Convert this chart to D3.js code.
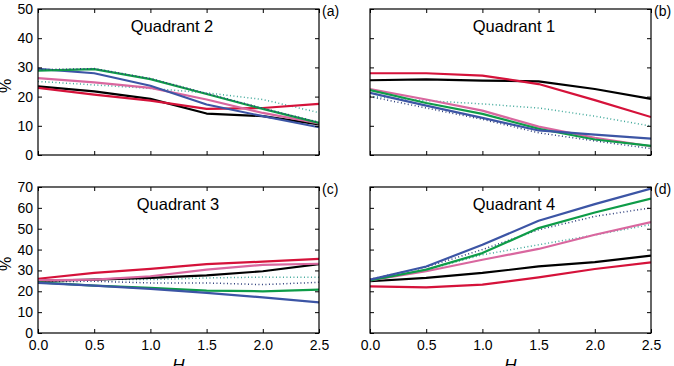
<!DOCTYPE html>
<html>
<head>
<meta charset="utf-8">
<script src="https://cdn.jsdelivr.net/npm/d3@7"></script>
<style>
  body { margin: 0; background: #fff; }
  svg { display: block; }
  text { font-family: "Liberation Sans", Arial, sans-serif; fill: #000; }
</style>
</head>
<body>
<div id="chart"></div>
<script>
// chart size
const width = 674, height = 366;

// H values along the x axis
const hValues = [0, 0.5, 1.0, 1.5, 2.0, 2.5];
const xTicks = [0, 0.5, 1.0, 1.5, 2.0, 2.5];

// series values per quadrant
const q2_black = [23.5, 21.8, 19.2, 14.2, 13.3, 10.5];
const q2_red   = [23.0, 20.7, 18.6, 15.8, 16.1, 17.5];
const q2_pink  = [26.3, 24.9, 23.0, 19.0, 14.4, 10.8];
const q2_blue  = [29.5, 28.0, 23.7, 17.3, 13.3, 9.5];
const q2_green = [28.9, 29.4, 26.0, 20.9, 15.8, 11.0];
const q2_dotNavy = [29.2, 29.6, 26.2, 21.1, 16.0, 11.2];
const q2_dotTeal = [25.2, 24.0, 22.8, 21.3, 19.0, 14.5];

const q1_black = [25.6, 25.9, 25.5, 25.2, 22.6, 19.2];
const q1_red   = [28.0, 28.0, 27.2, 24.3, 18.8, 13.0];
const q1_pink  = [22.6, 19.0, 15.2, 9.7, 5.9, 3.0];
const q1_blue  = [21.3, 16.9, 12.7, 8.4, 7.0, 5.6];
const q1_green = [22.2, 17.8, 14.1, 9.0, 5.3, 3.1];
const q1_dotNavy = [20.0, 16.1, 12.2, 7.6, 4.8, 2.2];
const q1_dotTeal = [20.1, 18.6, 17.5, 16.1, 13.3, 9.9];

const q3_black = [25.0, 25.6, 26.4, 27.6, 29.6, 33.0];
const q3_red   = [26.0, 28.8, 30.7, 33.0, 34.2, 35.5];
const q3_pink  = [25.2, 25.6, 27.2, 30.4, 32.7, 33.2];
const q3_blue  = [24.0, 22.7, 21.2, 19.2, 17.1, 14.7];
const q3_green = [24.3, 22.7, 21.6, 20.3, 20.0, 20.8];
const q3_dotNavy = [24.6, 24.8, 24.0, 24.0, 23.2, 24.3];
const q3_dotTeal = [25.0, 25.6, 25.6, 26.4, 26.8, 26.7];

const q4_black = [24.8, 26.4, 28.8, 31.9, 34.0, 37.1];
const q4_red   = [22.4, 21.9, 23.2, 26.7, 30.7, 33.9];
const q4_pink  = [25.2, 29.6, 35.1, 40.3, 47.1, 53.2];
const q4_blue  = [25.6, 31.9, 42.3, 53.8, 61.8, 69.2];
const q4_green = [25.2, 30.4, 38.3, 50.3, 57.8, 64.4];
const q4_dotNavy = [25.8, 31.6, 40.0, 49.5, 55.9, 60.0];
const q4_dotTeal = [25.4, 30.2, 37.5, 42.3, 47.0, 52.0];

// line styles
const styles = {
  dotTeal: { color: "#3fa89a", width: 1.5, dash: "1,2.5" },
  dotNavy: { color: "#2e3f7c", width: 1.5, dash: "1,2.5" },
  black: { color: "#000000", width: 2.2 },
  red:   { color: "#d5123a", width: 2.2 },
  pink:  { color: "#d9679f", width: 2.2 },
  green: { color: "#0e9c48", width: 2.2 },
  blue:  { color: "#3c55a5", width: 2.2 },
};

const panels = [
  { title: "Quadrant 2", tag: "(a)", left: 38, top: 9, yMax: 50, yLabels: true, xLabels: false,
    titleX: 172, series: { dotTeal: q2_dotTeal, black: q2_black, red: q2_red, pink: q2_pink, blue: q2_blue, green: q2_green, dotNavy: q2_dotNavy } },
  { title: "Quadrant 1", tag: "(b)", left: 370, top: 9, yMax: 50, yLabels: false, xLabels: false,
    titleX: 514, series: { dotTeal: q1_dotTeal, black: q1_black, red: q1_red, pink: q1_pink, green: q1_green, blue: q1_blue, dotNavy: q1_dotNavy } },
  { title: "Quadrant 3", tag: "(c)", left: 38, top: 187, yMax: 70, yLabels: true, xLabels: true,
    titleX: 178, series: { dotTeal: q3_dotTeal, dotNavy: q3_dotNavy, black: q3_black, red: q3_red, pink: q3_pink, green: q3_green, blue: q3_blue } },
  { title: "Quadrant 4", tag: "(d)", left: 370, top: 187, yMax: 70, yLabels: false, xLabels: true,
    titleX: 514, series: { dotTeal: q4_dotTeal, dotNavy: q4_dotNavy, black: q4_black, red: q4_red, pink: q4_pink, green: q4_green, blue: q4_blue } },
];

const pw = 281, ph = 146;

const svg = d3.select("#chart").append("svg")
  .attr("width", width)
  .attr("height", height);

panels.forEach(p => {
  const g = svg.append("g").attr("transform", `translate(${p.left},${p.top})`);

  const x = d3.scaleLinear().domain([0, 2.5]).range([0, pw]);
  const y = d3.scaleLinear().domain([0, p.yMax]).range([ph, 0]);
  const yTicks = d3.range(0, p.yMax + 1, 10);

  const line = d3.line().x((d, i) => x(hValues[i])).y(d => y(d));

  // clip so lines stay inside the box
  const clipId = "clip" + p.tag.replace(/\W/g, "");
  g.append("clipPath").attr("id", clipId)
    .append("rect").attr("width", pw).attr("height", ph);

  const lines = g.append("g").attr("clip-path", `url(#${clipId})`);
  Object.keys(p.series).forEach(k => {
    const s = styles[k];
    lines.append("path")
      .datum(p.series[k])
      .attr("d", line)
      .attr("fill", "none")
      .attr("stroke", s.color)
      .attr("stroke-width", s.width)
      .attr("stroke-dasharray", s.dash || null)
      .attr("stroke-linejoin", "round");
  });

  // axes, ticks pointing inward on all four sides
  const xb = g.append("g").attr("transform", `translate(0,${ph})`)
    .call(d3.axisBottom(x).tickValues(xTicks).tickSizeInner(-4).tickSizeOuter(0).tickPadding(7)
      .tickFormat(p.xLabels ? d3.format(".1f") : ""));
  const xt = g.append("g")
    .call(d3.axisTop(x).tickValues(xTicks).tickSizeInner(-4).tickSizeOuter(0).tickFormat(""));
  const yl = g.append("g")
    .call(d3.axisLeft(y).tickValues(yTicks).tickSizeInner(-4).tickSizeOuter(0).tickPadding(5)
      .tickFormat(p.yLabels ? d3.format("d") : ""));
  const yr = g.append("g").attr("transform", `translate(${pw},0)`)
    .call(d3.axisRight(y).tickValues(yTicks).tickSizeInner(-4).tickSizeOuter(0).tickFormat(""));

  [xb, xt, yl, yr].forEach(a => {
    a.select(".domain").remove();
    a.selectAll("line").attr("stroke", "#000");
    a.selectAll("text").style("font-size", "14px").attr("fill", "#000")
      .style("font-family", "'Liberation Sans', Arial, sans-serif");
  });

  // box
  g.append("rect").attr("width", pw).attr("height", ph)
    .attr("fill", "none").attr("stroke", "#000").attr("stroke-width", 1.2);

  g.append("text")
    .attr("x", p.titleX - p.left).attr("y", 23)
    .attr("text-anchor", "middle")
    .style("font-size", "16.5px")
    .text(p.title);

  svg.append("text")
    .attr("x", p.left + pw + 3).attr("y", p.top + 7)
    .style("font-size", "14px")
    .text(p.tag);

  if (p.yLabels) {
    svg.append("text")
      .attr("transform", `translate(11,${p.top + ph / 2 + 4}) rotate(-90)`)
      .attr("text-anchor", "middle")
      .style("font-size", "16px")
      .text("%");
  }
  if (p.xLabels) {
    svg.append("text")
      .attr("x", p.left + pw / 2).attr("y", 371)
      .attr("text-anchor", "middle")
      .style("font-size", "17px")
      .style("font-style", "italic")
      .text("H");
  }
});
</script>
</body>
</html>
